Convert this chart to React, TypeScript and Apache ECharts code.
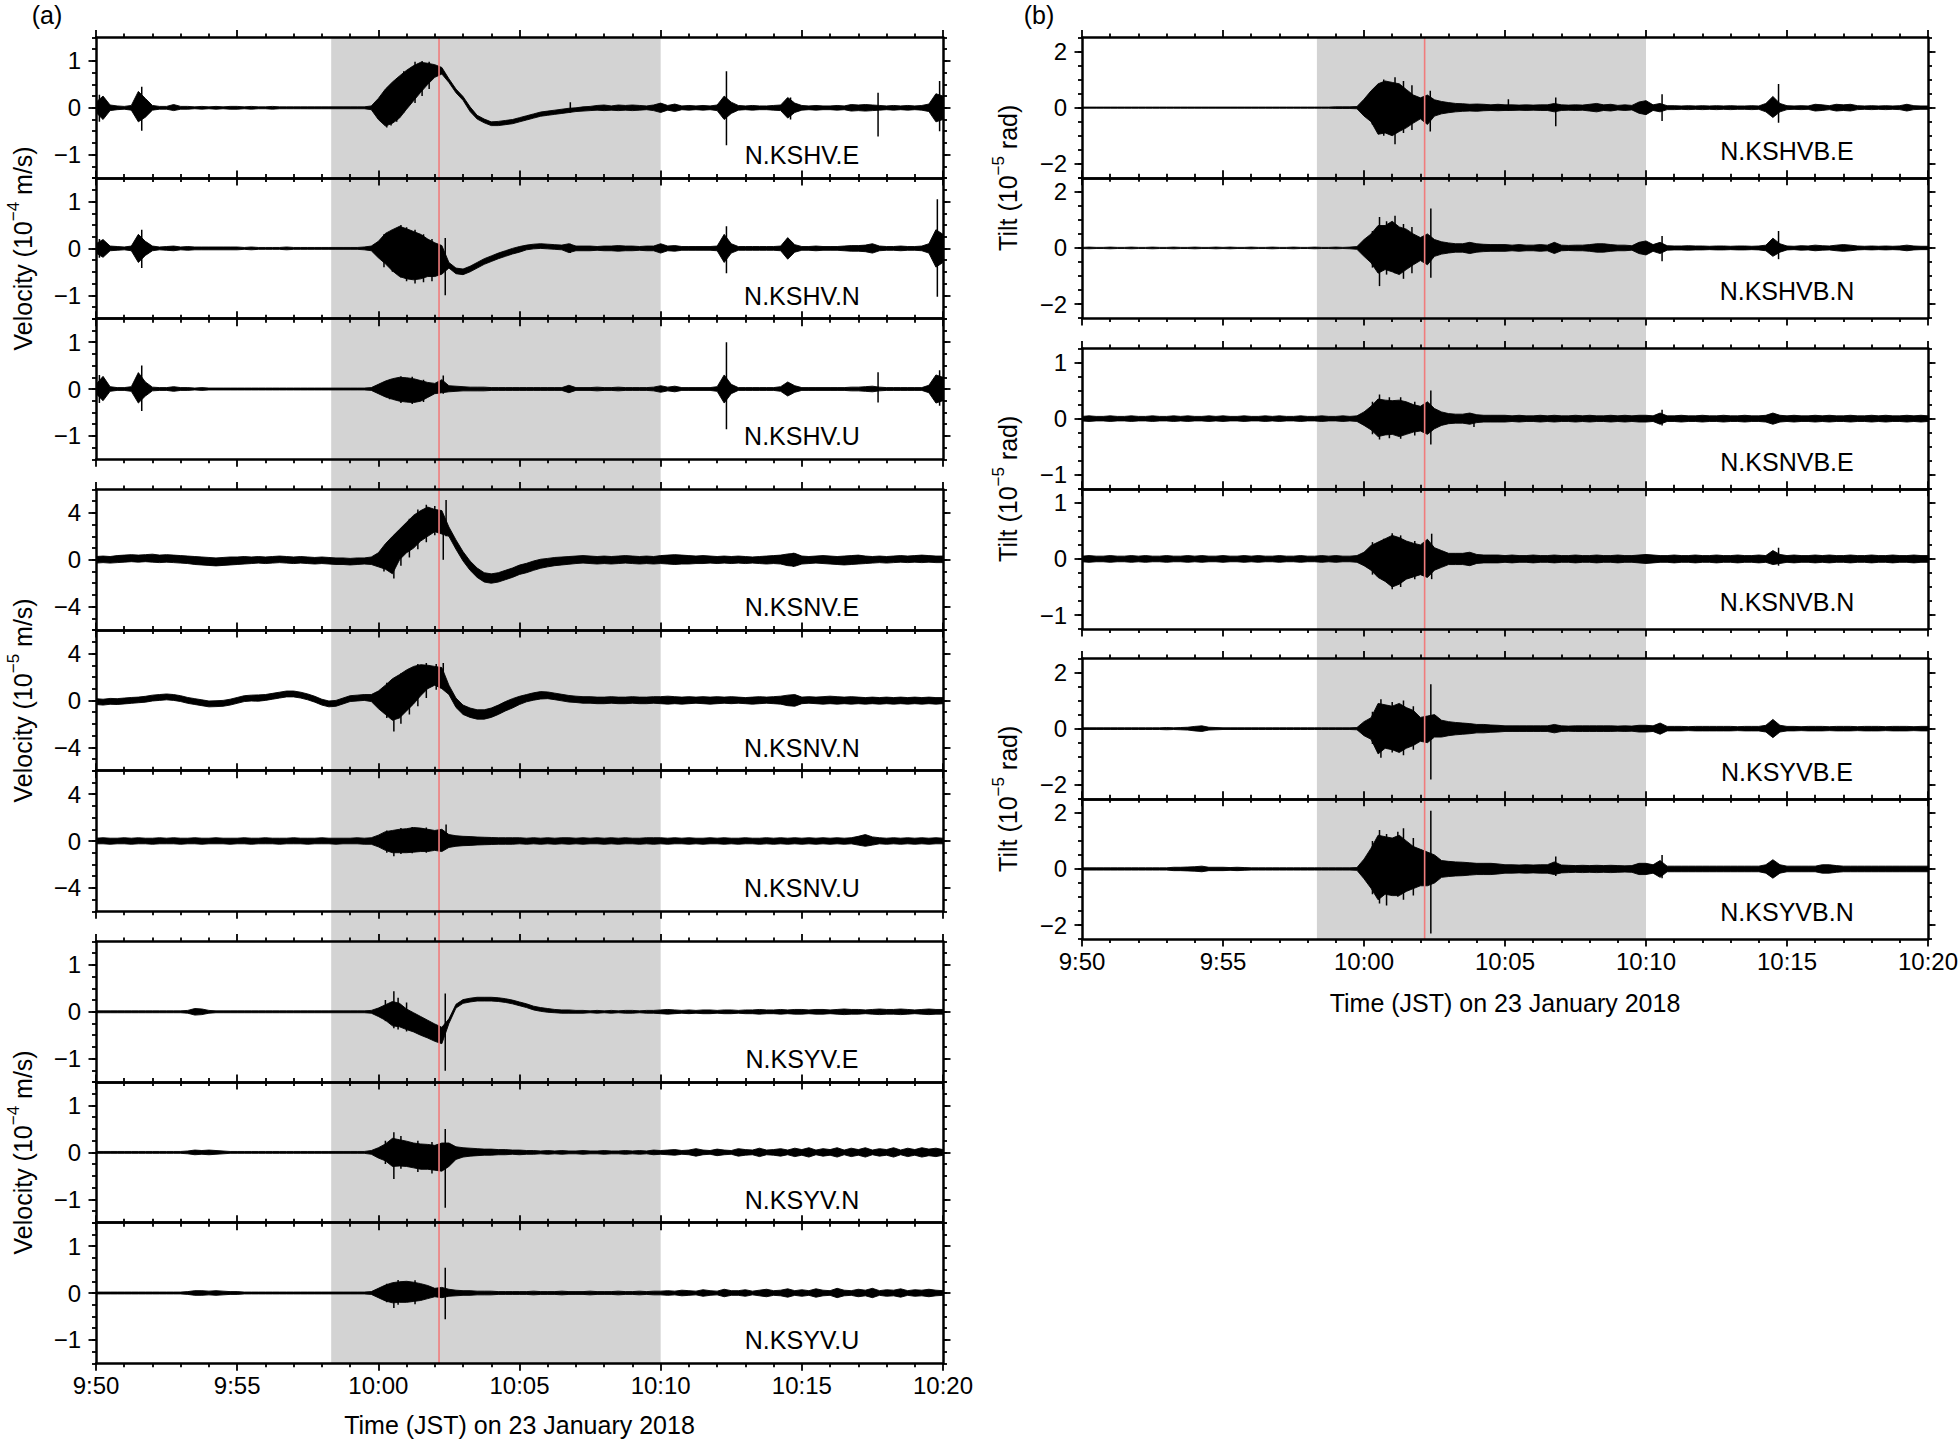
import React, { useEffect, useRef } from "react";
import * as echarts from "echarts";

const FONT = '"Liberation Sans", Arial, Helvetica, sans-serif';

// ---------- time axis (minutes after 9:50 JST) ----------
const X_TICK_LABELS = ["9:50", "9:55", "10:00", "10:05", "10:10", "10:15", "10:20"];
const X_RANGE = [0, 30];
const SAMPLE_STEP_MIN = 0.25; // envelopes read every 15 s
const SHADE_WINDOW = [8.33, 20];
const EVENT_TIME = 12.15;

// ---------- y scales ----------
const VEL4_MAJOR = [-1, 0, 1];
const VEL4_MINOR = [-1.5, -1.25, -1, -0.75, -0.5, -0.25, 0, 0.25, 0.5, 0.75, 1, 1.25, 1.5];
const VEL5_MAJOR = [-4, 0, 4];
const VEL5_MINOR = [-6, -5, -4, -3, -2, -1, 0, 1, 2, 3, 4, 5, 6];
const TILT2_MAJOR = [-2, 0, 2];
const TILT2_MINOR = [-2.5, -2, -1.5, -1, -0.5, 0, 0.5, 1, 1.5, 2, 2.5];
const TILT1_MAJOR = [-1, 0, 1];
const TILT1_MINOR = [-1.25, -1, -0.75, -0.5, -0.25, 0, 0.25, 0.5, 0.75, 1, 1.25];

// ---------- waveform envelopes (upper / lower), 15 s samples 9:50 - 10:20 ----------
// peaks: individual needles [time (min after 9:50), low, high]
// (a) N.KSHV.E  [1e-4 m/s]
const KSHV_E_HI = [
.12,.25,.06,.04,.03,.05,.35,.2,.05,.03,.03,.07,.03,.03,.02,.03,.02,.03,.02,.03,
.03,.02,.03,.02,.02,.03,.02,.02,.02,.02,.02,.02,.02,.02,.02,.02,.02,.02,.02,.04,
.2,.4,.55,.68,.8,.9,.97,.95,.92,.86,.62,.4,.24,.02,-.16,-.24,-.3,-.29,-.27,-.25,
-.21,-.17,-.13,-.09,-.07,-.05,-.03,-.01,0,.02,.03,.05,.06,.04,.06,.05,.06,.05,.04,.06,
.1,.05,.08,.04,.05,.04,.05,.04,.06,.25,.12,.05,.04,.05,.04,.04,.05,.06,.22,.1,
.05,.04,.05,.04,.04,.05,.04,.07,.06,.07,.06,.05,.04,.05,.04,.05,.04,.05,.08,.3,
.25];
const KSHV_E_LO = [
-.1,-.25,-.06,-.04,-.03,-.05,-.3,-.2,-.05,-.03,-.03,-.06,-.03,-.03,-.02,-.03,-.02,-.03,-.02,-.03,
-.03,-.02,-.03,-.02,-.02,-.03,-.02,-.02,-.02,-.02,-.02,-.02,-.02,-.02,-.02,-.02,-.02,-.02,-.02,-.04,
-.25,-.39,-.33,-.22,-.03,.15,.33,.5,.65,.72,.54,.32,.16,-.08,-.24,-.32,-.38,-.38,-.36,-.34,
-.3,-.26,-.22,-.18,-.16,-.14,-.12,-.1,-.08,-.07,-.06,-.05,-.06,-.05,-.06,-.05,-.06,-.05,-.04,-.06,
-.1,-.05,-.08,-.04,-.05,-.04,-.05,-.04,-.06,-.25,-.12,-.05,-.04,-.05,-.04,-.04,-.05,-.06,-.22,-.1,
-.05,-.04,-.05,-.04,-.04,-.05,-.04,-.07,-.06,-.07,-.06,-.05,-.04,-.05,-.04,-.05,-.04,-.05,-.08,-.3,
-.25];
const KSHV_E_PEAKS = [[0.12, -0.3, 0.28], [1.62, -0.49, 0.45], [10.3, -0.42, 0.3], [10.45, -0.38, 0.5], [10.65, -0.3, 0.62], [10.9, -0.1, 0.78], [11.3, 0.1, 0.98], [11.55, 0.25, 1.0], [11.8, 0.4, 0.98], [16.8, -0.1, 0.12], [22.33, -0.8, 0.78], [24.6, -0.25, 0.22], [27.7, -0.61, 0.32], [29.88, -0.5, 0.57]];

// (a) N.KSHV.N
const KSHV_N_HI = [
.1,.19,.05,.04,.03,.05,.3,.15,.05,.03,.04,.05,.03,.04,.03,.03,.03,.03,.03,.03,
.03,.02,.03,.02,.02,.02,.02,.03,.02,.02,.02,.02,.02,.02,.02,.02,.02,.02,.03,.05,
.15,.32,.4,.47,.42,.36,.3,.2,.12,.06,-.3,-.42,-.44,-.38,-.3,-.22,-.16,-.1,-.05,0,
.04,.07,.09,.1,.09,.08,.07,.1,.05,.05,.05,.04,.05,.05,.06,.05,.05,.04,.05,.05,
.1,.05,.06,.04,.04,.04,.04,.04,.05,.3,.1,.04,.04,.04,.04,.04,.04,.05,.23,.08,
.04,.04,.05,.04,.04,.04,.05,.06,.06,.07,.1,.05,.04,.04,.05,.04,.04,.05,.1,.4,
.3];
const KSHV_N_LO = [
-.1,-.19,-.05,-.04,-.03,-.05,-.3,-.15,-.05,-.03,-.04,-.05,-.03,-.04,-.03,-.03,-.03,-.03,-.03,-.03,
-.03,-.02,-.03,-.02,-.02,-.02,-.02,-.03,-.02,-.02,-.02,-.02,-.02,-.02,-.02,-.02,-.02,-.02,-.03,-.05,
-.2,-.33,-.48,-.6,-.65,-.67,-.65,-.6,-.6,-.55,-.42,-.54,-.56,-.5,-.42,-.34,-.28,-.22,-.17,-.12,
-.08,-.03,-.01,0,-.01,-.02,-.03,-.09,-.05,-.05,-.05,-.04,-.05,-.05,-.06,-.05,-.05,-.04,-.05,-.05,
-.1,-.05,-.06,-.04,-.04,-.04,-.04,-.04,-.05,-.3,-.1,-.04,-.04,-.04,-.04,-.04,-.04,-.05,-.23,-.08,
-.04,-.04,-.05,-.04,-.04,-.04,-.05,-.06,-.06,-.07,-.1,-.05,-.04,-.04,-.05,-.04,-.04,-.05,-.1,-.4,
-.3];
const KSHV_N_PEAKS = [[0.12, -0.2, 0.2], [1.62, -0.42, 0.4], [10.2, -0.4, 0.3], [10.5, -0.5, 0.4], [10.8, -0.62, 0.5], [11.0, -0.7, 0.45], [11.3, -0.75, 0.4], [11.6, -0.72, 0.3], [11.9, -0.7, 0.2], [12.37, -1.0, 0.22], [16.8, -0.1, 0.1], [22.33, -0.53, 0.47], [29.8, -1.03, 1.05]];

// (a) N.KSHV.U
const KSHV_U_HI = [
.1,.27,.05,.03,.03,.05,.35,.15,.04,.03,.03,.05,.03,.03,.02,.03,.02,.02,.02,.02,
.02,.02,.02,.02,.02,.02,.02,.02,.02,.02,.02,.02,.02,.02,.02,.02,.02,.02,.02,.03,
.1,.17,.22,.25,.24,.22,.18,.14,.12,.2,.07,.06,.05,.04,.04,.04,.03,.03,.03,.03,
.03,.03,.03,.03,.03,.03,.03,.08,.03,.03,.03,.04,.03,.03,.04,.03,.03,.03,.03,.04,
.07,.04,.06,.03,.03,.03,.03,.03,.05,.3,.1,.03,.03,.03,.03,.03,.03,.05,.15,.07,
.03,.03,.03,.03,.03,.03,.03,.04,.04,.05,.06,.04,.03,.03,.03,.03,.03,.03,.08,.3,
.25];
const KSHV_U_LO = [
-.1,-.25,-.05,-.03,-.03,-.05,-.3,-.15,-.04,-.03,-.03,-.05,-.03,-.03,-.02,-.03,-.02,-.02,-.02,-.02,
-.02,-.02,-.02,-.02,-.02,-.02,-.02,-.02,-.02,-.02,-.02,-.02,-.02,-.02,-.02,-.02,-.02,-.02,-.02,-.03,
-.1,-.17,-.22,-.26,-.28,-.29,-.26,-.18,-.1,-.08,-.06,-.05,-.04,-.04,-.04,-.04,-.03,-.03,-.03,-.03,
-.03,-.03,-.03,-.03,-.03,-.03,-.03,-.08,-.03,-.03,-.03,-.04,-.03,-.03,-.04,-.03,-.03,-.03,-.03,-.04,
-.07,-.04,-.06,-.03,-.03,-.03,-.03,-.03,-.05,-.3,-.1,-.03,-.03,-.03,-.03,-.03,-.03,-.05,-.15,-.07,
-.03,-.03,-.03,-.03,-.03,-.03,-.03,-.04,-.04,-.05,-.06,-.04,-.03,-.03,-.03,-.03,-.03,-.03,-.08,-.3,
-.25];
const KSHV_U_PEAKS = [[0.12, -0.3, 0.3], [1.62, -0.47, 0.5], [10.4, -0.22, 0.2], [10.8, -0.3, 0.27], [11.2, -0.32, 0.26], [11.6, -0.28, 0.2], [12.3, -0.1, 0.29], [22.33, -0.86, 1.0], [27.7, -0.29, 0.36], [29.88, -0.36, 0.4]];

// (a) N.KSNV.E  [1e-5 m/s]
const KSNV_E_HI = [
.28,.32,.28,.36,.4,.44,.4,.44,.48,.4,.44,.4,.36,.32,.28,.24,.2,.16,.2,.24,
.24,.28,.24,.28,.24,.28,.32,.28,.24,.28,.24,.2,.24,.2,.16,.16,.12,.16,.16,.24,
.6,1.37,2,2.6,3.2,3.8,4.2,4.5,4.3,4.2,2.8,1.7,.7,-.1,-.7,-1.1,-1.2,-1.1,-.9,-.7,
-.45,-.3,-.1,.05,.12,.2,.24,.28,.32,.36,.32,.28,.32,.28,.32,.36,.32,.28,.32,.28,
.36,.4,.44,.4,.36,.32,.36,.32,.28,.32,.28,.32,.28,.24,.28,.32,.36,.4,.5,.55,
.32,.28,.32,.36,.32,.28,.32,.36,.4,.32,.28,.32,.28,.32,.36,.32,.36,.4,.36,.32,
.32];
const KSNV_E_LO = [
-.28,-.24,-.28,-.24,-.2,-.16,-.2,-.16,-.2,-.24,-.2,-.24,-.28,-.32,-.4,-.44,-.48,-.52,-.48,-.44,
-.4,-.36,-.32,-.28,-.32,-.28,-.24,-.28,-.32,-.28,-.32,-.36,-.32,-.36,-.4,-.4,-.44,-.4,-.36,-.4,
-.6,-.8,-1.2,0,.6,1,1.6,2,2.4,2.2,2,.9,-.1,-.9,-1.5,-1.9,-2,-1.9,-1.7,-1.5,
-1.25,-1.1,-.9,-.72,-.6,-.5,-.44,-.38,-.32,-.28,-.32,-.36,-.32,-.36,-.32,-.28,-.32,-.36,-.32,-.36,
-.32,-.36,-.4,-.36,-.36,-.32,-.32,-.28,-.32,-.28,-.32,-.28,-.32,-.28,-.32,-.36,-.32,-.36,-.5,-.55,
-.36,-.32,-.28,-.32,-.36,-.4,-.44,-.4,-.36,-.32,-.28,-.24,-.28,-.24,-.2,-.24,-.2,-.24,-.2,-.24,
-.24];
const KSNV_E_PEAKS = [[10.2, -1.0, 0.9], [10.55, -1.6, 1.0], [10.8, -0.5, 2.6], [11.1, 0.2, 3.5], [11.4, 0.9, 4.3], [11.7, 1.5, 4.7], [12.0, 2.1, 4.6], [12.3, 0, 3.0], [12.4, 2.0, 5.1], [24.7, -0.6, 0.6]];

// (a) N.KSNV.N
const KSNV_N_HI = [
.15,.1,.17,.15,.2,.25,.28,.35,.45,.5,.55,.5,.4,.25,.15,.05,-.05,-.03,0,.1,
.25,.4,.45,.47,.5,.6,.7,.8,.8,.7,.55,.35,.1,-.05,0,.2,.4,.45,.5,.5,
.8,1.3,1.85,2.2,2.6,2.9,3.05,3,2.9,2.8,1.3,.2,-.4,-.65,-.8,-.8,-.65,-.4,-.1,.15,
.35,.5,.65,.75,.72,.62,.52,.42,.36,.32,.32,.28,.28,.32,.28,.28,.32,.28,.28,.32,
.32,.36,.32,.28,.32,.28,.32,.28,.32,.28,.32,.28,.24,.28,.32,.28,.32,.36,.45,.5,
.28,.32,.28,.32,.36,.32,.28,.32,.28,.24,.28,.24,.28,.24,.28,.24,.28,.24,.28,.24,
.24];
const KSNV_N_LO = [
-.35,-.4,-.33,-.35,-.3,-.25,-.2,-.15,-.05,0,.05,0,-.1,-.25,-.35,-.45,-.55,-.53,-.5,-.4,
-.25,-.1,-.05,-.07,0,.1,.2,.3,.3,.2,.05,-.15,-.4,-.55,-.5,-.3,-.1,-.05,0,-.1,
-.7,-1.2,-1.7,-1.5,-.9,-.3,.4,1,1.3,1,.5,-.6,-1.2,-1.45,-1.6,-1.6,-1.45,-1.2,-.9,-.65,
-.35,-.12,.02,.12,.15,.06,-.04,-.14,-.18,-.24,-.24,-.28,-.28,-.24,-.28,-.28,-.24,-.28,-.28,-.24,
-.28,-.32,-.28,-.32,-.28,-.24,-.28,-.32,-.28,-.24,-.28,-.24,-.28,-.32,-.28,-.24,-.28,-.32,-.45,-.5,
-.28,-.24,-.28,-.32,-.28,-.32,-.28,-.32,-.28,-.32,-.28,-.32,-.28,-.32,-.28,-.32,-.28,-.32,-.28,-.32,
-.28];
const KSNV_N_PEAKS = [[10.3, -1.5, 1.5], [10.55, -2.65, 1.5], [10.8, -2.0, 2.3], [11.1, -1.2, 2.7], [11.4, -0.5, 3.1], [11.7, 0.2, 3.2], [12.05, 0.9, 3.1], [12.3, 1.0, 3.2]];

// (a) N.KSNV.U
const KSNV_U_HI = [
.24,.28,.24,.24,.28,.24,.28,.24,.24,.28,.24,.28,.24,.24,.28,.24,.24,.28,.24,.24,
.24,.28,.24,.24,.28,.24,.24,.24,.28,.24,.24,.24,.28,.24,.24,.24,.24,.28,.24,.28,
.5,.8,.9,1,1.05,1.15,1.1,1,.9,1,.55,.45,.4,.38,.34,.32,.3,.28,.28,.28,
.28,.24,.28,.24,.28,.24,.28,.28,.24,.28,.24,.28,.24,.28,.24,.28,.24,.24,.28,.28,
.28,.24,.28,.24,.28,.24,.24,.28,.24,.28,.24,.24,.28,.24,.24,.28,.24,.28,.24,.28,
.24,.28,.24,.28,.24,.28,.24,.28,.4,.55,.35,.28,.24,.28,.24,.28,.24,.28,.24,.28,
.24];
const KSNV_U_LO = [
-.24,-.24,-.28,-.24,-.24,-.28,-.24,-.24,-.28,-.24,-.24,-.24,-.28,-.24,-.24,-.28,-.24,-.24,-.24,-.28,
-.24,-.24,-.28,-.24,-.24,-.24,-.28,-.24,-.24,-.24,-.28,-.24,-.24,-.24,-.28,-.24,-.24,-.24,-.28,-.28,
-.5,-.8,-1,-1,-1,-.95,-.9,-.9,-.8,-.9,-.55,-.45,-.4,-.38,-.34,-.32,-.3,-.28,-.28,-.28,
-.24,-.28,-.24,-.28,-.24,-.28,-.24,-.28,-.24,-.28,-.24,-.24,-.28,-.24,-.28,-.24,-.24,-.28,-.24,-.28,
-.24,-.28,-.24,-.24,-.28,-.24,-.28,-.24,-.24,-.28,-.24,-.28,-.24,-.24,-.28,-.24,-.28,-.24,-.28,-.24,
-.28,-.24,-.28,-.24,-.28,-.24,-.28,-.24,-.35,-.45,-.35,-.24,-.28,-.24,-.28,-.24,-.28,-.24,-.28,-.24,
-.24];
const KSNV_U_PEAKS = [[10.3, -1.0, 0.9], [10.55, -1.3, 0.8], [10.8, -1.1, 1.1], [11.2, -1.05, 1.2], [11.7, -1.0, 1.15], [12.4, -0.6, 1.4]];

// (a) N.KSYV.E  [1e-4 m/s]
const KSYV_E_HI = [
.02,.02,.02,.02,.02,.02,.02,.02,.02,.02,.02,.02,.02,.03,.07,.06,.03,.02,.02,.02,
.02,.02,.02,.02,.02,.02,.02,.02,.02,.02,.02,.02,.02,.02,.02,.02,.02,.02,.02,.03,
.08,.15,.22,.18,.06,-.02,-.1,-.18,-.26,-.33,-.15,.16,.26,.29,.31,.31,.31,.3,.28,.25,
.21,.17,.12,.09,.07,.05,.04,.04,.03,.03,.02,.03,.02,.03,.02,.03,.03,.02,.03,.03,
.04,.05,.04,.03,.04,.03,.04,.04,.03,.04,.04,.03,.04,.04,.05,.04,.04,.05,.04,.05,
.05,.04,.05,.05,.04,.05,.06,.05,.05,.04,.05,.06,.05,.05,.06,.05,.04,.05,.06,.05,
.05];
const KSYV_E_LO = [
-.02,-.02,-.02,-.02,-.02,-.02,-.02,-.02,-.02,-.02,-.02,-.02,-.02,-.03,-.07,-.06,-.03,-.02,-.02,-.02,
-.02,-.02,-.02,-.02,-.02,-.02,-.02,-.02,-.02,-.02,-.02,-.02,-.02,-.02,-.02,-.02,-.02,-.02,-.02,-.03,
-.1,-.18,-.3,-.32,-.38,-.43,-.5,-.56,-.63,-.68,-.25,.08,.18,.21,.23,.23,.23,.22,.2,.17,
.13,.09,.04,.01,-.01,-.02,-.03,-.03,-.03,-.03,-.02,-.03,-.02,-.03,-.02,-.03,-.03,-.02,-.03,-.03,
-.04,-.05,-.04,-.03,-.04,-.03,-.04,-.04,-.03,-.04,-.04,-.03,-.04,-.04,-.05,-.04,-.04,-.05,-.04,-.05,
-.05,-.04,-.05,-.05,-.04,-.05,-.06,-.05,-.05,-.04,-.05,-.06,-.05,-.05,-.06,-.05,-.04,-.05,-.06,-.05,
-.05];
const KSYV_E_PEAKS = [[10.25, -0.2, 0.25], [10.55, -0.35, 0.44], [10.7, -0.38, 0.3], [11.0, -0.42, 0.2], [12.37, -1.26, 0.39]];

// (a) N.KSYV.N
const KSYV_N_HI = [
.02,.02,.02,.02,.02,.02,.02,.02,.02,.02,.02,.02,.02,.03,.05,.04,.05,.04,.03,.02,
.02,.02,.02,.02,.02,.02,.02,.02,.02,.02,.02,.02,.02,.02,.02,.02,.02,.02,.02,.04,
.1,.18,.3,.27,.24,.2,.18,.17,.15,.2,.2,.12,.1,.09,.08,.07,.07,.06,.06,.05,
.05,.04,.04,.03,.04,.03,.04,.03,.03,.04,.03,.03,.04,.03,.03,.04,.03,.04,.03,.05,
.04,.05,.06,.04,.05,.08,.05,.04,.07,.05,.04,.08,.06,.05,.09,.05,.06,.08,.05,.09,
.06,.1,.05,.08,.06,.1,.05,.09,.06,.1,.05,.08,.06,.1,.05,.09,.06,.1,.07,.09,
.06];
const KSYV_N_LO = [
-.02,-.02,-.02,-.02,-.02,-.02,-.02,-.02,-.02,-.02,-.02,-.02,-.02,-.03,-.05,-.04,-.05,-.04,-.03,-.02,
-.02,-.02,-.02,-.02,-.02,-.02,-.02,-.02,-.02,-.02,-.02,-.02,-.02,-.02,-.02,-.02,-.02,-.02,-.02,-.04,
-.12,-.18,-.3,-.29,-.3,-.33,-.36,-.36,-.38,-.4,-.3,-.15,-.1,-.08,-.07,-.06,-.06,-.05,-.05,-.04,
-.05,-.04,-.04,-.03,-.04,-.03,-.04,-.03,-.03,-.04,-.03,-.03,-.04,-.03,-.03,-.04,-.03,-.04,-.03,-.05,
-.04,-.05,-.06,-.04,-.05,-.08,-.05,-.04,-.07,-.05,-.04,-.08,-.06,-.05,-.09,-.05,-.06,-.08,-.05,-.09,
-.06,-.1,-.05,-.08,-.06,-.1,-.05,-.09,-.06,-.1,-.05,-.08,-.06,-.1,-.05,-.09,-.06,-.1,-.07,-.09,
-.06];
const KSYV_N_PEAKS = [[10.25, -0.25, 0.25], [10.55, -0.57, 0.43], [10.8, -0.35, 0.35], [11.4, -0.42, 0.25], [11.9, -0.45, 0.22], [12.37, -1.18, 0.5]];

// (a) N.KSYV.U
const KSYV_U_HI = [
.02,.02,.02,.02,.02,.02,.02,.02,.02,.02,.02,.02,.02,.03,.05,.05,.04,.05,.04,.03,
.03,.02,.02,.02,.02,.02,.02,.02,.02,.02,.02,.02,.02,.02,.02,.02,.02,.02,.02,.03,
.1,.17,.22,.24,.25,.23,.2,.16,.1,.12,.08,.06,.05,.05,.04,.04,.04,.03,.03,.03,
.03,.03,.04,.03,.03,.03,.04,.03,.03,.03,.04,.03,.03,.03,.04,.03,.03,.04,.03,.04,
.04,.05,.04,.06,.05,.04,.07,.05,.04,.08,.05,.05,.07,.04,.06,.08,.05,.06,.09,.05,
.07,.05,.09,.06,.05,.1,.06,.05,.08,.06,.1,.05,.07,.06,.09,.05,.07,.06,.08,.06,
.05];
const KSYV_U_LO = [
-.02,-.02,-.02,-.02,-.02,-.02,-.02,-.02,-.02,-.02,-.02,-.02,-.02,-.03,-.05,-.05,-.04,-.05,-.04,-.03,
-.03,-.02,-.02,-.02,-.02,-.02,-.02,-.02,-.02,-.02,-.02,-.02,-.02,-.02,-.02,-.02,-.02,-.02,-.02,-.03,
-.1,-.17,-.21,-.2,-.2,-.18,-.16,-.12,-.08,-.1,-.07,-.06,-.05,-.05,-.04,-.04,-.04,-.03,-.03,-.03,
-.03,-.03,-.04,-.03,-.03,-.03,-.04,-.03,-.03,-.03,-.04,-.03,-.03,-.03,-.04,-.03,-.03,-.04,-.03,-.04,
-.04,-.05,-.04,-.06,-.05,-.04,-.07,-.05,-.04,-.08,-.05,-.05,-.07,-.04,-.06,-.08,-.05,-.06,-.09,-.05,
-.07,-.05,-.09,-.06,-.05,-.1,-.06,-.05,-.08,-.06,-.1,-.05,-.07,-.06,-.09,-.05,-.07,-.06,-.08,-.06,
-.05];
const KSYV_U_PEAKS = [[10.3, -0.2, 0.2], [10.55, -0.32, 0.2], [10.7, -0.25, 0.28], [11.3, -0.24, 0.27], [12.37, -0.56, 0.54]];

// (b) N.KSHVB.E  [1e-5 rad]
const KSHVB_E_HI = [
.02,.02,.02,.02,.02,.02,.02,.02,.02,.02,.02,.02,.02,.02,.02,.02,.02,.02,.02,.02,
.02,.02,.02,.02,.02,.02,.02,.02,.02,.02,.02,.02,.02,.02,.02,.02,.03,.03,.03,.04,
.3,.6,.85,.95,.9,.85,.65,.45,.35,.45,.28,.22,.18,.15,.14,.12,.13,.12,.1,.12,
.1,.1,.09,.1,.09,.1,.1,.15,.1,.09,.1,.09,.12,.15,.1,.12,.08,.1,.08,.2,
.25,.1,.15,.07,.07,.06,.07,.06,.07,.06,.07,.06,.07,.06,.06,.07,.06,.15,.4,.15,
.07,.06,.07,.06,.12,.1,.07,.12,.1,.12,.07,.06,.07,.06,.07,.06,.07,.12,.07,.06,
.06];
const KSHVB_E_LO = [
-.02,-.02,-.02,-.02,-.02,-.02,-.02,-.02,-.02,-.02,-.02,-.02,-.02,-.02,-.02,-.02,-.02,-.02,-.02,-.02,
-.02,-.02,-.02,-.02,-.02,-.02,-.02,-.02,-.02,-.02,-.02,-.02,-.02,-.02,-.02,-.02,-.03,-.03,-.03,-.04,
-.3,-.5,-.95,-.9,-1,-.85,-.72,-.55,-.4,-.6,-.3,-.22,-.18,-.15,-.13,-.12,-.13,-.11,-.1,-.11,
-.1,-.1,-.09,-.1,-.09,-.1,-.1,-.15,-.1,-.09,-.1,-.09,-.12,-.15,-.1,-.12,-.08,-.1,-.08,-.2,
-.25,-.1,-.15,-.07,-.07,-.06,-.07,-.06,-.07,-.06,-.07,-.06,-.07,-.06,-.06,-.07,-.06,-.15,-.35,-.15,
-.07,-.06,-.07,-.06,-.12,-.1,-.07,-.12,-.1,-.12,-.07,-.06,-.07,-.06,-.07,-.06,-.07,-.12,-.07,-.06,
-.06];
const KSHVB_E_PEAKS = [[10.3, -0.6, 0.6], [10.7, -1.0, 1.0], [10.95, -0.95, 0.9], [11.1, -1.3, 1.08], [11.4, -0.9, 0.95], [11.7, -0.8, 0.8], [12.35, -0.85, 0.6], [15.12, -0.1, 0.3], [16.8, -0.66, 0.36], [20.57, -0.48, 0.48], [24.7, -0.54, 0.84]];

// (b) N.KSHVB.N
const KSHVB_N_HI = [
.02,.03,.02,.02,.03,.02,.02,.03,.02,.02,.03,.02,.02,.03,.02,.02,.03,.02,.02,.03,
.02,.03,.02,.02,.03,.02,.02,.03,.02,.02,.03,.02,.02,.03,.02,.02,.03,.02,.03,.05,
.3,.5,.8,.8,.95,.75,.67,.5,.37,.5,.3,.22,.18,.15,.15,.2,.15,.13,.12,.12,
.12,.1,.12,.1,.1,.12,.1,.2,.1,.09,.1,.1,.12,.15,.15,.12,.1,.1,.08,.2,
.25,.12,.2,.08,.07,.07,.08,.07,.07,.06,.07,.07,.06,.07,.07,.06,.07,.1,.35,.15,
.07,.06,.08,.07,.1,.08,.07,.1,.12,.1,.07,.06,.07,.06,.07,.06,.07,.1,.07,.06,
.06];
const KSHVB_N_LO = [
-.02,-.03,-.02,-.02,-.03,-.02,-.02,-.03,-.02,-.02,-.03,-.02,-.02,-.03,-.02,-.02,-.03,-.02,-.02,-.03,
-.02,-.03,-.02,-.02,-.03,-.02,-.02,-.03,-.02,-.02,-.03,-.02,-.02,-.03,-.02,-.02,-.03,-.02,-.03,-.05,
-.3,-.53,-.9,-.77,-.85,-.95,-.77,-.6,-.45,-.6,-.3,-.22,-.18,-.15,-.15,-.2,-.15,-.13,-.12,-.12,
-.12,-.1,-.12,-.1,-.1,-.12,-.1,-.2,-.1,-.09,-.1,-.1,-.12,-.15,-.15,-.12,-.1,-.1,-.08,-.2,
-.25,-.12,-.2,-.08,-.07,-.07,-.08,-.07,-.07,-.06,-.07,-.07,-.06,-.07,-.07,-.06,-.07,-.1,-.3,-.15,
-.07,-.06,-.08,-.07,-.1,-.08,-.07,-.1,-.12,-.1,-.07,-.06,-.07,-.06,-.07,-.06,-.07,-.1,-.07,-.06,
-.06];
const KSHVB_N_PEAKS = [[10.3, -0.7, 0.6], [10.55, -1.36, 1.1], [10.8, -0.95, 0.95], [11.1, -0.9, 1.15], [11.4, -1.1, 0.85], [11.7, -0.9, 0.75], [12.37, -1.06, 1.41], [20.57, -0.47, 0.43], [24.7, -0.4, 0.6]];

// (b) N.KSNVB.E
const KSNVB_E_HI = [
.04,.05,.04,.04,.05,.04,.04,.05,.04,.04,.05,.04,.04,.05,.04,.05,.04,.04,.05,.04,
.05,.04,.04,.05,.04,.04,.05,.04,.05,.04,.04,.05,.04,.04,.05,.04,.04,.05,.04,.05,
.12,.22,.35,.33,.32,.33,.3,.25,.22,.3,.18,.12,.09,.08,.08,.1,.07,.06,.06,.06,
.06,.05,.06,.05,.05,.06,.05,.06,.05,.05,.06,.05,.06,.05,.05,.06,.05,.06,.05,.06,
.06,.05,.1,.05,.05,.06,.05,.05,.06,.05,.05,.06,.05,.05,.06,.05,.05,.06,.1,.06,
.05,.06,.05,.05,.06,.05,.06,.05,.05,.06,.05,.05,.06,.05,.06,.05,.05,.06,.05,.06,
.05];
const KSNVB_E_LO = [
-.04,-.05,-.04,-.04,-.05,-.04,-.04,-.05,-.04,-.04,-.05,-.04,-.04,-.05,-.04,-.05,-.04,-.04,-.05,-.04,
-.05,-.04,-.04,-.05,-.04,-.04,-.05,-.04,-.05,-.04,-.04,-.05,-.04,-.04,-.05,-.04,-.04,-.05,-.04,-.05,
-.12,-.2,-.32,-.29,-.28,-.32,-.28,-.24,-.22,-.28,-.18,-.12,-.09,-.08,-.08,-.1,-.07,-.06,-.06,-.06,
-.06,-.05,-.06,-.05,-.05,-.06,-.05,-.06,-.05,-.05,-.06,-.05,-.06,-.05,-.05,-.06,-.05,-.06,-.05,-.06,
-.06,-.05,-.1,-.05,-.05,-.06,-.05,-.05,-.06,-.05,-.05,-.06,-.05,-.05,-.06,-.05,-.05,-.06,-.1,-.06,
-.05,-.06,-.05,-.05,-.06,-.05,-.06,-.05,-.05,-.06,-.05,-.05,-.06,-.05,-.06,-.05,-.05,-.06,-.05,-.06,
-.05];
const KSNVB_E_PEAKS = [[10.3, -0.28, 0.3], [10.55, -0.37, 0.43], [10.9, -0.35, 0.38], [11.3, -0.36, 0.38], [11.8, -0.3, 0.3], [12.37, -0.46, 0.5], [13.9, -0.15, 0.08], [20.57, -0.12, 0.16]];

// (b) N.KSNVB.N
const KSNVB_N_HI = [
.05,.06,.05,.05,.06,.05,.05,.06,.05,.06,.05,.05,.06,.05,.05,.06,.05,.06,.05,.05,
.06,.05,.05,.06,.05,.06,.05,.05,.06,.05,.05,.06,.05,.05,.06,.05,.06,.05,.05,.06,
.12,.24,.3,.36,.42,.38,.32,.28,.25,.35,.2,.15,.1,.1,.1,.12,.08,.07,.07,.07,
.06,.07,.06,.06,.07,.06,.06,.07,.06,.06,.07,.06,.06,.07,.06,.06,.07,.06,.06,.07,
.08,.07,.06,.06,.07,.06,.06,.07,.06,.06,.07,.06,.06,.07,.06,.06,.07,.06,.15,.08,
.06,.07,.06,.06,.07,.06,.07,.06,.06,.07,.06,.06,.07,.06,.06,.07,.06,.06,.07,.06,
.06];
const KSNVB_N_LO = [
-.05,-.06,-.05,-.05,-.06,-.05,-.05,-.06,-.05,-.06,-.05,-.05,-.06,-.05,-.05,-.06,-.05,-.06,-.05,-.05,
-.06,-.05,-.05,-.06,-.05,-.06,-.05,-.05,-.06,-.05,-.05,-.06,-.05,-.05,-.06,-.05,-.06,-.05,-.05,-.06,
-.12,-.2,-.33,-.4,-.5,-.45,-.36,-.32,-.28,-.33,-.2,-.15,-.1,-.1,-.1,-.12,-.08,-.07,-.07,-.07,
-.06,-.07,-.06,-.06,-.07,-.06,-.06,-.07,-.06,-.06,-.07,-.06,-.06,-.07,-.06,-.06,-.07,-.06,-.06,-.07,
-.08,-.07,-.06,-.06,-.07,-.06,-.06,-.07,-.06,-.06,-.07,-.06,-.06,-.07,-.06,-.06,-.07,-.06,-.1,-.08,
-.06,-.07,-.06,-.06,-.07,-.06,-.07,-.06,-.06,-.07,-.06,-.06,-.07,-.06,-.06,-.07,-.06,-.06,-.07,-.06,
-.06];
const KSNVB_N_PEAKS = [[10.3, -0.28, 0.3], [10.7, -0.38, 0.36], [11.0, -0.54, 0.46], [11.3, -0.5, 0.42], [11.8, -0.36, 0.32], [12.4, -0.36, 0.45], [24.7, -0.12, 0.2]];

// (b) N.KSYVB.E
const KSYVB_E_HI = [
.03,.03,.03,.03,.03,.03,.03,.03,.03,.03,.03,.03,.04,.03,.04,.05,.08,.1,.05,.04,
.03,.03,.03,.03,.03,.03,.03,.03,.03,.03,.03,.03,.03,.03,.03,.03,.03,.03,.03,.04,
.25,.39,.9,.85,.8,.9,.75,.65,.4,.45,.5,.3,.25,.22,.2,.18,.15,.15,.13,.12,
.1,.1,.1,.1,.1,.1,.1,.15,.1,.09,.1,.1,.1,.1,.1,.1,.09,.1,.09,.12,
.12,.1,.2,.08,.08,.08,.07,.08,.08,.08,.08,.08,.08,.07,.08,.08,.08,.12,.33,.12,
.08,.08,.07,.08,.08,.08,.07,.08,.08,.08,.07,.08,.08,.08,.07,.08,.08,.08,.07,.08,
.08];
const KSYVB_E_LO = [
-.03,-.03,-.03,-.03,-.03,-.03,-.03,-.03,-.03,-.03,-.03,-.03,-.04,-.03,-.04,-.05,-.08,-.1,-.05,-.04,
-.03,-.03,-.03,-.03,-.03,-.03,-.03,-.03,-.03,-.03,-.03,-.03,-.03,-.03,-.03,-.03,-.03,-.03,-.03,-.04,
-.25,-.38,-.9,-.7,-.75,-.85,-.7,-.6,-.45,-.5,-.3,-.3,-.25,-.22,-.2,-.18,-.15,-.15,-.13,-.12,
-.1,-.1,-.1,-.1,-.1,-.1,-.1,-.15,-.1,-.09,-.1,-.1,-.1,-.1,-.1,-.1,-.09,-.1,-.09,-.12,
-.12,-.1,-.2,-.08,-.08,-.08,-.07,-.08,-.08,-.08,-.08,-.08,-.08,-.07,-.08,-.08,-.08,-.12,-.32,-.12,
-.08,-.08,-.07,-.08,-.08,-.08,-.07,-.08,-.08,-.08,-.07,-.08,-.08,-.08,-.07,-.08,-.08,-.08,-.07,-.08,
-.08];
const KSYVB_E_PEAKS = [[10.3, -0.55, 0.6], [10.6, -1.04, 1.05], [11.0, -0.85, 0.95], [11.4, -0.95, 1.0], [11.75, -0.75, 0.8], [12.37, -1.81, 1.58]];

// (b) N.KSYVB.N
const KSYVB_N_HI = [
.04,.04,.04,.04,.04,.04,.04,.04,.04,.04,.04,.04,.04,.06,.06,.07,.08,.1,.06,.06,
.06,.05,.06,.05,.04,.04,.04,.04,.04,.04,.04,.04,.04,.04,.04,.04,.04,.04,.04,.05,
.35,.74,1.2,1.15,1.1,1.2,1,.8,.7,.6,.5,.3,.27,.25,.24,.22,.2,.2,.2,.18,
.15,.15,.14,.15,.14,.15,.15,.25,.14,.13,.12,.13,.12,.13,.12,.13,.12,.11,.12,.2,
.2,.15,.3,.1,.1,.1,.1,.1,.1,.1,.1,.1,.1,.1,.1,.1,.1,.15,.33,.15,
.1,.1,.1,.1,.1,.15,.15,.12,.1,.1,.1,.1,.1,.1,.1,.1,.1,.1,.1,.1,
.1];
const KSYVB_N_LO = [
-.04,-.04,-.04,-.04,-.04,-.04,-.04,-.04,-.04,-.04,-.04,-.04,-.04,-.06,-.06,-.07,-.08,-.1,-.06,-.06,
-.06,-.05,-.06,-.05,-.04,-.04,-.04,-.04,-.04,-.04,-.04,-.04,-.04,-.04,-.04,-.04,-.04,-.04,-.04,-.05,
-.35,-.69,-1.1,-.9,-.95,-.95,-.8,-.7,-.6,-.6,-.5,-.3,-.27,-.25,-.24,-.22,-.2,-.2,-.2,-.18,
-.15,-.15,-.14,-.15,-.14,-.15,-.15,-.2,-.14,-.13,-.12,-.13,-.12,-.13,-.12,-.13,-.12,-.11,-.12,-.2,
-.2,-.15,-.3,-.1,-.1,-.1,-.1,-.1,-.1,-.1,-.1,-.1,-.1,-.1,-.1,-.1,-.1,-.15,-.33,-.15,
-.1,-.1,-.1,-.1,-.1,-.15,-.15,-.12,-.1,-.1,-.1,-.1,-.1,-.1,-.1,-.1,-.1,-.1,-.1,-.1,
-.1];
const KSYVB_N_PEAKS = [[10.3, -0.9, 1.0], [10.55, -1.23, 1.39], [10.8, -1.3, 1.25], [11.2, -0.99, 1.33], [11.4, -1.1, 1.45], [11.75, -0.95, 1.1], [12.37, -2.3, 2.07], [16.8, -0.25, 0.44], [20.57, -0.33, 0.5]];

// ---------- panel definitions ----------
const VEL_E4 = { max: 1.5, major: VEL4_MAJOR, minor: VEL4_MINOR };
const VEL_E5 = { max: 6, major: VEL5_MAJOR, minor: VEL5_MINOR };
const TILT_2 = { max: 2.5, major: TILT2_MAJOR, minor: TILT2_MINOR };
const TILT_1 = { max: 1.25, major: TILT1_MAJOR, minor: TILT1_MINOR };

const GROUPS_A = [
  { unit: "{a|Velocity (10}{s|−4}{a| m/s)}", scale: VEL_E4, panels: [
    { name: "N.KSHV.E", hi: KSHV_E_HI, lo: KSHV_E_LO, peaks: KSHV_E_PEAKS },
    { name: "N.KSHV.N", hi: KSHV_N_HI, lo: KSHV_N_LO, peaks: KSHV_N_PEAKS },
    { name: "N.KSHV.U", hi: KSHV_U_HI, lo: KSHV_U_LO, peaks: KSHV_U_PEAKS },
  ] },
  { unit: "{a|Velocity (10}{s|−5}{a| m/s)}", scale: VEL_E5, panels: [
    { name: "N.KSNV.E", hi: KSNV_E_HI, lo: KSNV_E_LO, peaks: KSNV_E_PEAKS },
    { name: "N.KSNV.N", hi: KSNV_N_HI, lo: KSNV_N_LO, peaks: KSNV_N_PEAKS },
    { name: "N.KSNV.U", hi: KSNV_U_HI, lo: KSNV_U_LO, peaks: KSNV_U_PEAKS },
  ] },
  { unit: "{a|Velocity (10}{s|−4}{a| m/s)}", scale: VEL_E4, panels: [
    { name: "N.KSYV.E", hi: KSYV_E_HI, lo: KSYV_E_LO, peaks: KSYV_E_PEAKS },
    { name: "N.KSYV.N", hi: KSYV_N_HI, lo: KSYV_N_LO, peaks: KSYV_N_PEAKS },
    { name: "N.KSYV.U", hi: KSYV_U_HI, lo: KSYV_U_LO, peaks: KSYV_U_PEAKS },
  ] },
];
const GROUPS_B = [
  { unit: "{a|Tilt (10}{s|−5}{a| rad)}", scale: TILT_2, panels: [
    { name: "N.KSHVB.E", hi: KSHVB_E_HI, lo: KSHVB_E_LO, peaks: KSHVB_E_PEAKS },
    { name: "N.KSHVB.N", hi: KSHVB_N_HI, lo: KSHVB_N_LO, peaks: KSHVB_N_PEAKS },
  ] },
  { unit: "{a|Tilt (10}{s|−5}{a| rad)}", scale: TILT_1, panels: [
    { name: "N.KSNVB.E", hi: KSNVB_E_HI, lo: KSNVB_E_LO, peaks: KSNVB_E_PEAKS },
    { name: "N.KSNVB.N", hi: KSNVB_N_HI, lo: KSNVB_N_LO, peaks: KSNVB_N_PEAKS },
  ] },
  { unit: "{a|Tilt (10}{s|−5}{a| rad)}", scale: TILT_2, panels: [
    { name: "N.KSYVB.E", hi: KSYVB_E_HI, lo: KSYVB_E_LO, peaks: KSYVB_E_PEAKS },
    { name: "N.KSYVB.N", hi: KSYVB_N_HI, lo: KSYVB_N_LO, peaks: KSYVB_N_PEAKS },
  ] },
];

// ---------- layout (pixels) ----------
const COLUMNS = [
  { tag: "(a)", tagX: 47, tagY: 15, groups: GROUPS_A, left: 96, width: 847, tops: [37.5, 489.5, 941.5], h: 140.6, unitX: 20, stationDy: 23, titleDy: 62 },
  { tag: "(b)", tagX: 1039, tagY: 15, groups: GROUPS_B, left: 1082, width: 846, tops: [37.5, 348.5, 658.5], h: 140.3, unitX: 1005, stationDy: 27, titleDy: 63.5 },
];
const X_TITLE = "Time (JST) on 23 January 2018";

const BLACK = "#000";
const fmtY = (v: number) => (v < 0 ? "−" + Math.abs(v) : String(v));

function xAxisDef(gi: number, position: string, showLabels: boolean) {
  return {
    type: "value", gridIndex: gi, position, min: X_RANGE[0], max: X_RANGE[1], interval: 5, z: 5,
    axisLine: { show: true, onZero: false, lineStyle: { color: BLACK, width: 2.5 } },
    axisTick: { show: true, inside: false, length: 7.5, lineStyle: { color: BLACK, width: 1.8 } },
    minorTick: { show: true, splitNumber: 5, length: 4, lineStyle: { color: BLACK, width: 1.8 } },
    axisLabel: {
      show: showLabels, margin: 10, fontSize: 24, fontFamily: FONT, color: BLACK,
      formatter: (v: number) => X_TICK_LABELS[Math.round(v / 5)] ?? "",
    },
    splitLine: { show: false },
  };
}

function yAxisDef(gi: number, position: string, scale: any, major: boolean, showLabels: boolean) {
  return {
    type: "value", gridIndex: gi, position, min: -scale.max, max: scale.max, z: 5,
    axisLine: { show: major, onZero: false, lineStyle: { color: BLACK, width: 2.5 } },
    axisTick: {
      show: true, inside: false, length: major ? 7.5 : 4,
      customValues: major ? scale.major : scale.minor,
      lineStyle: { color: BLACK, width: 1.8 },
    },
    axisLabel: {
      show: showLabels, customValues: scale.major, formatter: fmtY,
      margin: 15, fontSize: 24, fontFamily: FONT, color: BLACK,
    },
    splitLine: { show: false },
    minorTick: { show: false },
  };
}

function buildOption() {
  const grid: any[] = [], xAxis: any[] = [], yAxis: any[] = [], series: any[] = [];
  const colX: number[] = [];
  COLUMNS.forEach((col) => {
    colX.push(xAxis.length);
    col.groups.forEach((group, g) => {
      group.panels.forEach((p, k) => {
        const gi = grid.length;
        const top = col.tops[g] + k * col.h;
        grid.push({ left: col.left, top, width: col.width, height: col.h, containLabel: false, outerBoundsMode: "none" });
        const isLast = g === col.groups.length - 1 && k === group.panels.length - 1;
        const xi = xAxis.length;
        xAxis.push(xAxisDef(gi, "bottom", isLast), xAxisDef(gi, "top", false));
        const yi = yAxis.length;
        yAxis.push(
          yAxisDef(gi, "left", group.scale, true, true),
          yAxisDef(gi, "left", group.scale, false, false),
          yAxisDef(gi, "right", group.scale, true, false),
          yAxisDef(gi, "right", group.scale, false, false)
        );
        const hi = p.hi, lo = p.lo;
        series.push({
          type: "custom", name: p.name, xAxisIndex: xi, yAxisIndex: yi, coordinateSystem: "cartesian2d",
          data: [[0, 0]], silent: true, clip: true, z: 3,
          renderItem: (_params: any, api: any) => {
            const pts: number[][] = [];
            for (let i = 0; i < hi.length; i++) pts.push(api.coord([i * SAMPLE_STEP_MIN, hi[i]]));
            for (let i = lo.length - 1; i >= 0; i--) pts.push(api.coord([i * SAMPLE_STEP_MIN, lo[i]]));
            return { type: "polygon", shape: { points: pts }, style: { fill: BLACK, stroke: BLACK, lineWidth: 0.9 } };
          },
        });
        series.push({
          type: "custom", name: p.name + " peaks", xAxisIndex: xi, yAxisIndex: yi, coordinateSystem: "cartesian2d",
          data: p.peaks, encode: { x: 0, y: [1, 2] }, silent: true, clip: true, z: 3,
          renderItem: (_params: any, api: any) => {
            const a = api.coord([api.value(0), api.value(1)]);
            const b = api.coord([api.value(0), api.value(2)]);
            return { type: "line", shape: { x1: a[0], y1: a[1], x2: b[0], y2: b[1] }, style: { stroke: BLACK, lineWidth: 1.5 } };
          },
        });
      });
    });
  });
  return { option: { animation: false, backgroundColor: "#fff", grid, xAxis, yAxis, series }, colX };
}

function buildGraphics(chart: any, colX: number[]) {
  const els: any[] = [];
  const textBase = { fontFamily: FONT, fill: BLACK };
  COLUMNS.forEach((col, ci) => {
    const nG = col.groups.length;
    const lastG = col.groups[nG - 1];
    const yTop = col.tops[0];
    const yBot = col.tops[nG - 1] + lastG.panels.length * col.h;
    const xs = chart.convertToPixel({ xAxisIndex: colX[ci] }, SHADE_WINDOW[0]);
    const xe = chart.convertToPixel({ xAxisIndex: colX[ci] }, SHADE_WINDOW[1]);
    const xr = chart.convertToPixel({ xAxisIndex: colX[ci] }, EVENT_TIME);
    els.push({ type: "rect", z: 1, silent: true, shape: { x: xs, y: yTop, width: xe - xs, height: yBot - yTop }, style: { fill: "#d3d3d3" } });
    els.push({ type: "line", z: 4, silent: true, shape: { x1: xr, y1: yTop, x2: xr, y2: yBot }, style: { stroke: "#f07c7c", lineWidth: 1.6 } });
    els.push({ type: "text", z: 6, x: col.tagX, y: col.tagY, style: { ...textBase, text: col.tag, fontSize: 25, align: "center", verticalAlign: "middle", textAlign: "center", textVerticalAlign: "middle" } });
    col.groups.forEach((group, g) => {
      const gTop = col.tops[g];
      const gH = group.panels.length * col.h;
      els.push({
        type: "text", z: 6, x: col.unitX, y: gTop + gH / 2, rotation: Math.PI / 2,
        style: {
          text: group.unit, align: "center", verticalAlign: "middle", textAlign: "center", textVerticalAlign: "middle",
          rich: {
            a: { fontSize: 25, fontFamily: FONT, fill: BLACK, color: BLACK, verticalAlign: "bottom", lineHeight: 30 },
            s: { fontSize: 17, fontFamily: FONT, fill: BLACK, color: BLACK, verticalAlign: "top", lineHeight: 30 },
          },
        },
      });
      group.panels.forEach((p, k) => {
        const bottom = gTop + (k + 1) * col.h;
        els.push({
          type: "text", z: 6, x: col.left + col.width - 141, y: bottom - col.stationDy,
          style: { ...textBase, text: p.name, fontSize: 25, align: "center", verticalAlign: "middle", textAlign: "center", textVerticalAlign: "middle" },
        });
      });
    });
    els.push({
      type: "text", z: 6, x: col.left + col.width / 2, y: yBot + col.titleDy,
      style: { ...textBase, text: X_TITLE, fontSize: 25, align: "center", verticalAlign: "middle", textAlign: "center", textVerticalAlign: "middle" },
    });
  });
  return els;
}

export default function App() {
  const ref = useRef<HTMLDivElement>(null);
  useEffect(() => {
    if (!ref.current) return;
    const chart = echarts.init(ref.current, undefined, { renderer: "svg" });
    const { option, colX } = buildOption();
    chart.setOption(option as any);
    chart.setOption({ graphic: { elements: buildGraphics(chart, colX) } } as any);
    return () => chart.dispose();
  }, []);
  return (
    <div
      ref={ref}
      style={{ position: "fixed", left: 0, top: 0, width: 1959, height: 1444, background: "#fff" }}
    />
  );
}
